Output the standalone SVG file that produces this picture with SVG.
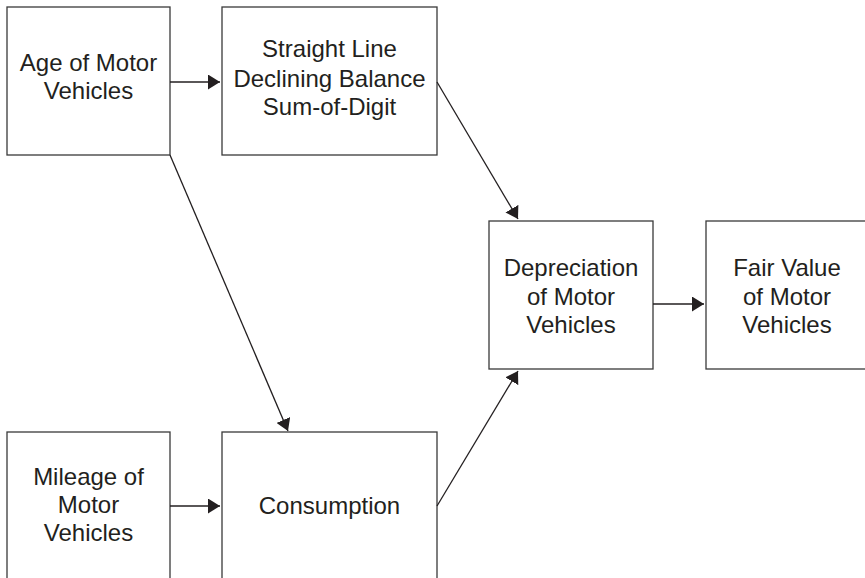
<svg xmlns="http://www.w3.org/2000/svg" width="865" height="578" viewBox="0 0 865 578">
<defs>
<marker id="ah" markerUnits="userSpaceOnUse" markerWidth="13" markerHeight="15" refX="12" refY="7.5" orient="auto">
<path d="M0,0 L12,7.5 L0,15 z" fill="#231f20"/>
</marker>
<style>
.box{fill:#fff;stroke:#3a3a3a;stroke-width:1.3}
.t{font-family:"Liberation Sans",Arial,sans-serif;font-size:24px;fill:#231f20;text-anchor:middle}
.c{stroke:#231f20;stroke-width:1.3;fill:none;marker-end:url(#ah)}
</style>
</defs>
<rect width="865" height="578" fill="#fff"/>
<g id="age">
<rect class="box" x="7" y="7" width="163" height="148"/>
<text class="t" x="88.5" y="71">Age of Motor</text>
<text class="t" x="88.5" y="99">Vehicles</text>
</g>
<g id="methods">
<rect class="box" x="222" y="7" width="215" height="148"/>
<text class="t" x="329.5" y="57">Straight Line</text>
<text class="t" x="329.5" y="87">Declining Balance</text>
<text class="t" x="329.5" y="115">Sum-of-Digit</text>
</g>
<g id="depreciation">
<rect class="box" x="489" y="221" width="164" height="148"/>
<text class="t" x="571" y="276">Depreciation</text>
<text class="t" x="571" y="305">of Motor</text>
<text class="t" x="571" y="333">Vehicles</text>
</g>
<g id="fairvalue">
<rect class="box" x="706" y="221" width="162" height="148"/>
<text class="t" x="787" y="276">Fair Value</text>
<text class="t" x="787" y="305">of Motor</text>
<text class="t" x="787" y="333">Vehicles</text>
</g>
<g id="mileage">
<rect class="box" x="7" y="432" width="163" height="170"/>
<text class="t" x="88.5" y="485">Mileage of</text>
<text class="t" x="88.5" y="513">Motor</text>
<text class="t" x="88.5" y="541">Vehicles</text>
</g>
<g id="consumption">
<rect class="box" x="222" y="432" width="215" height="170"/>
<text class="t" x="329.5" y="514">Consumption</text>
</g>
<g id="connectors">
<line class="c" x1="170" y1="82" x2="220" y2="82"/>
<line class="c" x1="170" y1="155" x2="288" y2="431"/>
<line class="c" x1="437" y1="82" x2="518" y2="219"/>
<line class="c" x1="437" y1="506" x2="518" y2="371"/>
<line class="c" x1="653" y1="304" x2="704" y2="304"/>
<line class="c" x1="170" y1="506" x2="220" y2="506"/>
</g>
</svg>
